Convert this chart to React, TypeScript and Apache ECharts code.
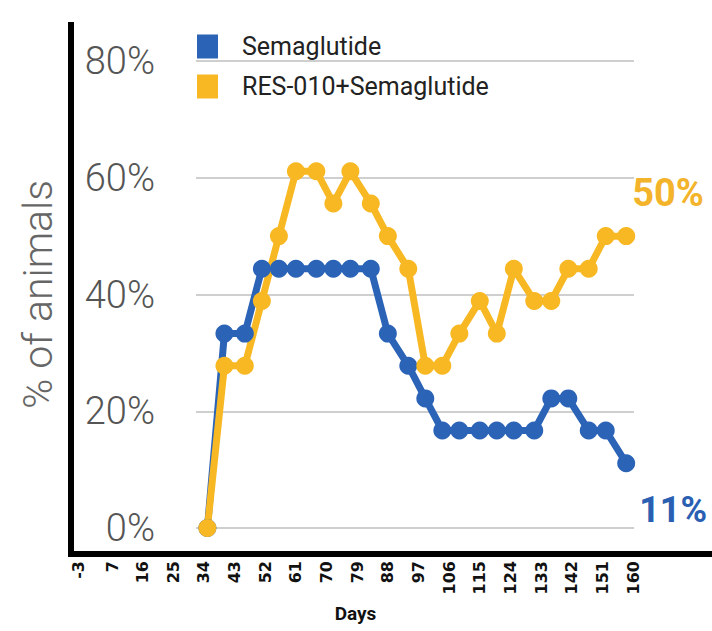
import React, { useEffect, useRef } from "react";
import * as echarts from "echarts";

const days = [35, 40, 46, 51, 56, 61, 67, 72, 77, 83, 88, 94, 99, 104, 109, 115, 120, 125, 131, 136, 141, 147, 152, 158];
const semaglutide = [0, 33.3, 33.3, 44.4, 44.4, 44.4, 44.4, 44.4, 44.4, 44.4, 33.3, 27.8, 22.2, 16.7, 16.7, 16.7, 16.7, 16.7, 16.7, 22.2, 22.2, 16.7, 16.7, 11.1];
const combo = [0, 27.8, 27.8, 38.9, 50, 61.1, 61.1, 55.6, 61.1, 55.6, 50, 44.4, 27.8, 27.8, 33.3, 38.9, 33.3, 44.4, 38.9, 38.9, 44.4, 44.4, 50, 50];
const dayTicks = [-3, 7, 16, 25, 34, 43, 52, 61, 70, 79, 88, 97, 106, 115, 124, 133, 142, 151, 160];
const seriesNames = ["Semaglutide", "RES-010+Semaglutide"];

const BLUE = "#2b63b7";
const YELLOW = "#f8b823";
const COND = "'Liberation Sans Narrow', Roboto, sans-serif";

export default function App() {
  const ref = useRef<HTMLDivElement>(null);
  useEffect(() => {
    if (!ref.current) return;
    const chart = echarts.init(ref.current, null, { renderer: "svg" });
    const endFmt = (p: any) => Math.round(p.value[1]) + "%";
    chart.setOption({
      animation: false,
      backgroundColor: "#ffffff",
      grid: [
        { left: 78, right: 79, top: 61, bottom: 103 },
        { left: 196, right: 78, top: 61, bottom: 103 },
      ],
      legend: {
        data: seriesNames,
        orient: "vertical",
        left: 192,
        top: 29,
        icon: "rect",
        itemWidth: 21,
        itemHeight: 24,
        itemGap: 15,
        textStyle: { fontFamily: "Roboto", fontSize: 25, color: "#222", padding: [0, 0, 0, 19] },
      },
      xAxis: [
        {
          type: "value",
          gridIndex: 0,
          min: -3,
          max: 160,
          name: "Days",
          nameLocation: "middle",
          nameGap: 76,
          nameTextStyle: { fontFamily: COND, fontWeight: "bold", fontSize: 19, color: "#111" },
          axisLine: { show: false },
          axisTick: { show: false },
          splitLine: { show: false },
          axisLabel: {
            customValues: dayTicks,
            rotate: 90,
            margin: 33,
            fontFamily: "'DejaVu Sans', sans-serif",
            fontWeight: "bold",
            fontSize: 16,
            color: "#111",
          },
        },
        { type: "value", gridIndex: 1, min: 0, max: 1, show: false },
      ],
      yAxis: [
        {
          type: "value",
          gridIndex: 0,
          min: 0,
          max: 80,
          interval: 20,
          name: "% of animals",
          nameLocation: "middle",
          nameGap: 20,
          nameTextStyle: { fontFamily: "Roboto", fontWeight: 300, fontSize: 41, color: "#666" },
          axisLine: { show: false },
          axisTick: { show: false },
          splitLine: { show: false },
          axisLabel: {
            inside: true,
            align: "right",
            margin: 77,
            formatter: "{value}%",
            fontFamily: "Roboto",
            fontWeight: 300,
            fontSize: 38,
            color: "#555",
          },
        },
        {
          type: "value",
          gridIndex: 1,
          min: 0,
          max: 80,
          interval: 20,
          axisLine: { show: false },
          axisTick: { show: false },
          axisLabel: { show: false },
          splitLine: { show: true, lineStyle: { color: "#cfcfcf", width: 2 } },
        },
      ],
      graphic: [
        { type: "line", shape: { x1: 71, y1: 22, x2: 71, y2: 557 }, style: { stroke: "#000", lineWidth: 6 }, z: 10 },
        { type: "line", shape: { x1: 68, y1: 554, x2: 712, y2: 554 }, style: { stroke: "#000", lineWidth: 6 }, z: 10 },
      ],
      series: [
        {
          name: "gridlines",
          type: "line",
          xAxisIndex: 1,
          yAxisIndex: 1,
          data: [],
        },
        {
          name: seriesNames[0],
          type: "line",
          xAxisIndex: 0,
          yAxisIndex: 0,
          data: days.map((d, i) => [d, semaglutide[i]]),
          color: BLUE,
          lineStyle: { width: 7, color: BLUE },
          symbol: "circle",
          symbolSize: 18,
          itemStyle: { color: BLUE },
          endLabel: {
            show: true,
            formatter: endFmt,
            offset: [5, 47],
            fontFamily: "Roboto",
            fontWeight: "bold",
            fontSize: 36,
            color: "#2a5fb2",
          },
        },
        {
          name: seriesNames[1],
          type: "line",
          xAxisIndex: 0,
          yAxisIndex: 0,
          data: days.map((d, i) => [d, combo[i]]),
          color: YELLOW,
          lineStyle: { width: 7, color: YELLOW },
          symbol: "circle",
          symbolSize: 18,
          itemStyle: { color: YELLOW },
          endLabel: {
            show: true,
            formatter: endFmt,
            offset: [-2, -43],
            fontFamily: "Roboto",
            fontWeight: "bold",
            fontSize: 38,
            color: "#f3b32a",
          },
        },
      ],
    });
    return () => chart.dispose();
  }, []);
  return <div ref={ref} style={{ width: 712, height: 631, position: "absolute", left: 0, top: 0 }} />;
}
